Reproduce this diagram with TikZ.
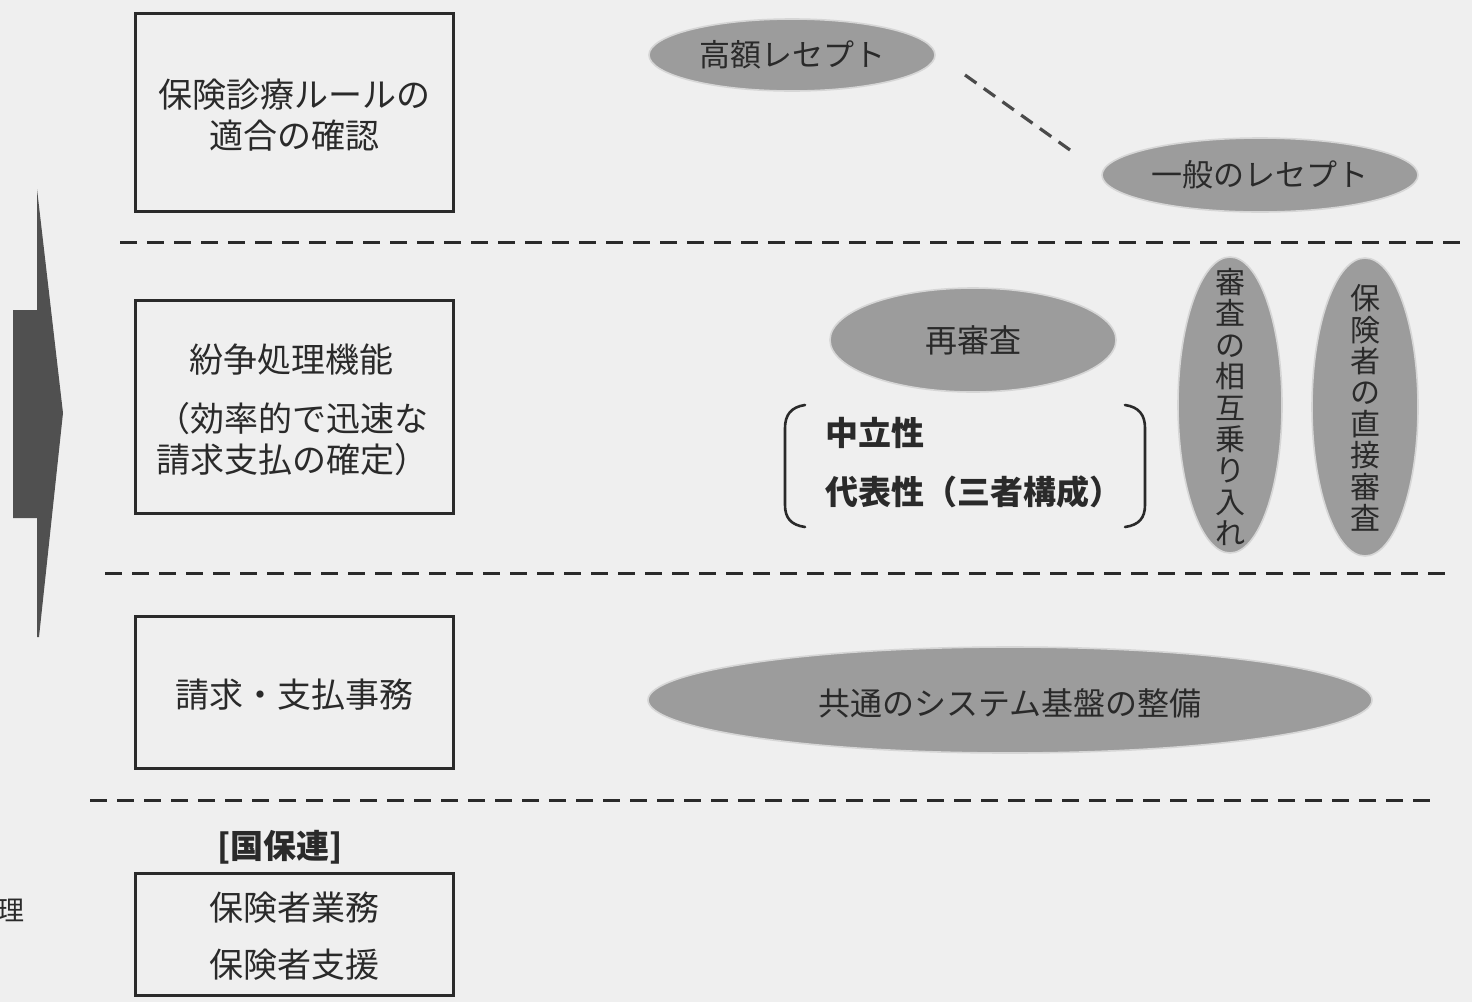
\documentclass[tikz,border=0pt]{standalone}
\usepackage{fontspec}
\setmainfont{Noto Sans CJK JP}
\usetikzlibrary{shapes.geometric}
\definecolor{bgc}{HTML}{EFEFEF}
\definecolor{ink}{HTML}{2A2A2A}
\definecolor{ovalfill}{HTML}{9C9C9C}
\definecolor{ovalline}{HTML}{D6D6D6}
\definecolor{arrowc}{HTML}{505050}
\begin{document}
\begin{tikzpicture}[x=0.5pt,y=-0.5pt,
  box/.style={draw=ink,line width=1.5pt,minimum width=159pt,inner sep=0pt,rectangle},
  boxtext/.style={text=ink,font=\fontsize{17}{20.5}\selectfont,align=center,inner sep=0pt},
  oval/.style={ellipse,fill=ovalfill,draw=ovalline,line width=0.8pt,inner sep=0pt},
  ovaltext/.style={text=ink,font=\fontsize{15.5}{16}\selectfont,inner sep=0pt},
  vtext/.style={text=ink,font=\fontsize{15}{15.7}\selectfont,align=center,inner sep=0pt},
  sep/.style={draw=ink,line width=1.5pt,dash pattern=on 8.5pt off 5pt},
  link/.style={draw=ink!85,line width=1.6pt,dash pattern=on 7pt off 4.5pt},
  brk/.style={draw=ink,line width=1.3pt,line cap=round},
  boldtext/.style={text=ink,font=\bfseries\fontsize{16.5}{20}\selectfont,inner sep=0pt}]
\fill[bgc] (0,0) rectangle (1472,1002);
\useasboundingbox (0,0) rectangle (1472,1002);

% left arrow
\fill[arrowc] (37,189) -- (63,413) -- (39,637) -- (37,637) -- (37,518) -- (13,518) -- (13,310) -- (37,310) -- cycle;

% boxes
\node[box,minimum height=99pt] (b1) at (294,112) {};
\node[boxtext] (t1) at (294,115) {保険診療ルールの\\適合の確認};
\node[box,minimum height=106.5pt] (b2) at (294,406.5) {};
\node[boxtext] (t2a) at (291,360) {紛争処理機能};
\node[boxtext] (t2b) at (292,439) {（効率的で迅速な\\請求支払の確定）};
\node[box,minimum height=76pt] (b3) at (294,692) {};
\node[boxtext] (t3) at (294,695) {請求・支払事務};
\node[boldtext] (kokuho) at (280,847) {[国保連]};
\node[box,minimum height=61pt] (b4) at (294,934) {};
\node[boxtext] (t4a) at (294,908) {保険者業務};
\node[boxtext] (t4b) at (294,965) {保険者支援};
\node[text=ink,font=\fontsize{13.5}{15}\selectfont,inner sep=0pt] (ri) at (11,910) {理};

% separators
\coordinate (s1a) at (120,242); \coordinate (s1b) at (1465,242);
\coordinate (s2a) at (105,573); \coordinate (s2b) at (1450,573);
\coordinate (s3a) at (90,800);  \coordinate (s3b) at (1435,800);
\draw[sep] (s1a) -- (s1b);
\draw[sep] (s2a) -- (s2b);
\draw[sep] (s3a) -- (s3b);

% ovals top
\node[oval,minimum width=143pt,minimum height=36pt] (e1) at (792,55) {};
\node[ovaltext] at (e1) {高額レセプト};
\node[oval,minimum width=158pt,minimum height=37pt] (e2) at (1260,175) {};
\node[ovaltext] at (e2) {一般のレセプト};
\coordinate (l1) at (965,75);
\coordinate (l2) at (1070,150);
\draw[link] (l1) -- (l2);

% middle
\node[oval,minimum width=143pt,minimum height=52pt] (e3) at (973,340) {};
\node[ovaltext,font=\fontsize{16}{16}\selectfont] at (e3) {再審査};
\node[oval,minimum width=52pt,minimum height=148pt] (e4) at (1230,405) {};
\node[vtext] at (1230,407) {審\\査\\の\\相\\互\\乗\\り\\入\\れ};
\node[oval,minimum width=53pt,minimum height=149pt] (e5) at (1365,407) {};
\node[vtext] at (1365,408) {保\\険\\者\\の\\直\\接\\審\\査};

\draw[brk] (805,405) .. controls (791,407) and (785,415) .. (785,428) -- (785,505) .. controls (785,518) and (791,525) .. (805,527);
\draw[brk] (1125,405) .. controls (1139,407) and (1145,415) .. (1145,428) -- (1145,505) .. controls (1145,518) and (1139,525) .. (1125,527);
\node[boldtext,anchor=west] (n1) at (825,433) {中立性};
\node[boldtext,anchor=west] (n2) at (825,492) {代表性（三者構成）};

% bottom oval
\node[oval,minimum width=362pt,minimum height=53pt] (e6) at (1010,700) {};
\node[ovaltext,font=\fontsize{16}{16}\selectfont] at (1010,703) {共通のシステム基盤の整備};
\end{tikzpicture}
\end{document}
